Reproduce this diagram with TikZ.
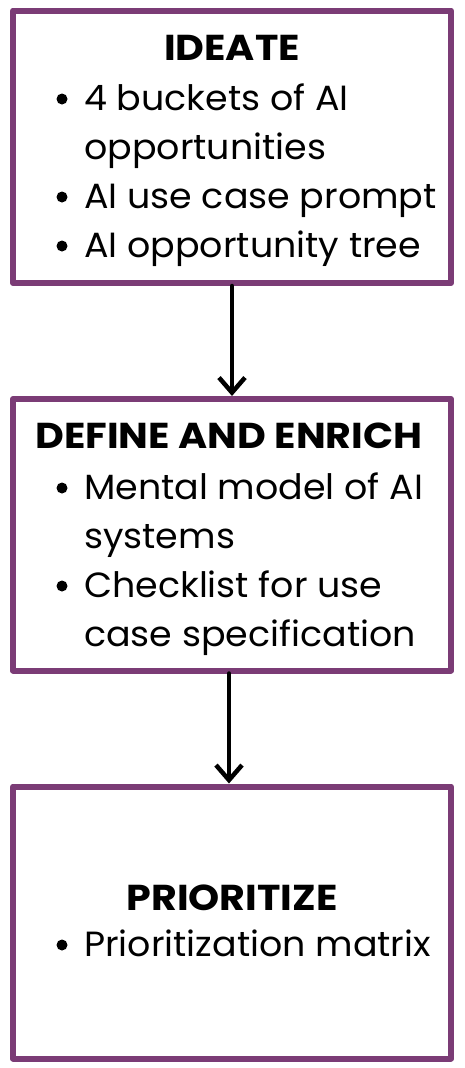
\documentclass[tikz,border=0pt]{standalone}
\usepackage{fontspec}
\setmainfont{Poppins}
\newfontfamily\bodyfont[FakeStretch=1.04]{Poppins}
\newfontfamily\titlefont[FakeStretch=1.10]{Poppins}
\usepackage{tikz}
\usetikzlibrary{arrows.meta}
\usetikzlibrary{positioning}
\definecolor{boxpurple}{RGB}{123,60,118}
\tikzset{
	stagebox/.style={draw=boxpurple, line width=6pt, minimum width=438pt},
	stagetitle/.style={anchor=base, font=\titlefont\fontsize{36}{40}\selectfont\bfseries, inner sep=0pt},
	itemtext/.style={anchor=base west, font=\bodyfont\fontsize{35}{40}\selectfont, inner sep=0pt},
	bulletdot/.style={circle, fill=black, minimum size=11pt, inner sep=0pt},
	flow/.style={line width=4.5pt, -{Straight Barb[length=15pt, width=26pt, line width=4.5pt]}}
}
\begin{document}
\begin{tikzpicture}[x=1pt, y=-1pt, line cap=round, line join=round]
		\useasboundingbox (0,0) rectangle (464,1068);
		% the three stages
		\node[stagebox, minimum height=272.5pt] (ideate) at (232,146.75) {};
		\node[stagebox, minimum height=271.5pt] (define) at (232,534.75) {};
		\node[stagebox, minimum height=272pt] (prio) at (232,922.5) {};
		% ideate
		\node[stagetitle] (ideateT) at (232,60) {IDEATE};
		\node[bulletdot] (bA) at (62,99) {};
		\node[itemtext] (iA) at (84,110) {4 buckets of AI};
		\node[itemtext] (iAb) at (84,159) {opportunities};
		\node[bulletdot] (bB) at (62,197) {};
		\node[itemtext] (iB) at (84,208) {AI use case prompt};
		\node[bulletdot] (bC) at (62,246) {};
		\node[itemtext] (iC) at (84,257) {AI opportunity tree};
		% define and enrich
		\node[stagetitle] (defineT) at (229,448) {DEFINE AND ENRICH};
		\node[bulletdot] (bD) at (62,488) {};
		\node[itemtext] (iD) at (84,499) {Mental model of AI};
		\node[itemtext] (iDb) at (84,548) {systems};
		\node[bulletdot] (bE) at (62,586) {};
		\node[itemtext] (iE) at (84,597) {Checklist for use};
		\node[itemtext] (iEb) at (84,646) {case specification};
		% prioritize
		\node[stagetitle] (prioT) at (232,910) {PRIORITIZE};
		\node[bulletdot] (bF) at (62,945) {};
		\node[itemtext] (iF) at (84,956) {Prioritization matrix};
		% arrows
		\draw[flow] (ideate.south) -- (define.north);
		\draw[flow] ([xshift=-3pt]define.south) -- ([xshift=-3pt]prio.north);
	\end{tikzpicture}
\end{document}
